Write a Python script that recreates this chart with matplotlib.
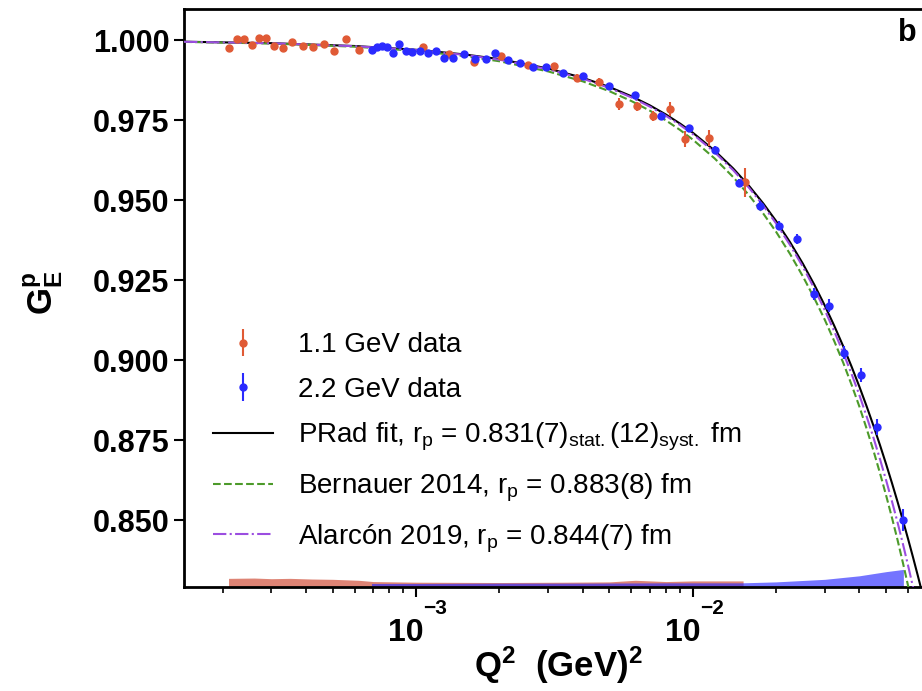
import numpy as np
import matplotlib
matplotlib.use('Agg')
import matplotlib.pyplot as plt
from matplotlib.ticker import FixedLocator, FuncFormatter, LogLocator, NullFormatter

plt.rcParams['font.family'] = ['Liberation Sans', 'DejaVu Sans']
plt.rcParams['mathtext.fontset'] = 'custom'
plt.rcParams['mathtext.rm'] = 'Liberation Sans'
plt.rcParams['mathtext.it'] = 'Liberation Sans:italic'
plt.rcParams['mathtext.bf'] = 'Liberation Sans:bold'

# ---------------- data ----------------
red_q2 = [2.115e-4, 2.249e-4, 2.396e-4, 2.548e-4, 2.715e-4, 2.862e-4, 3.075e-4, 3.315e-4,
          3.573e-4, 3.896e-4, 4.255e-4, 4.651e-4, 5.066e-4, 5.598e-4, 6.208e-4,
          1.060e-3, 1.316e-3, 1.621e-3, 2.028e-3, 2.540e-3, 3.153e-3, 3.819e-3, 4.585e-3,
          5.393e-3, 6.273e-3, 7.205e-3, 8.278e-3, 9.380e-3, 1.140e-2, 1.545e-2]
red_ge = [0.99775, 1.00047, 1.00047, 0.99859, 1.00088, 1.00069, 0.99819, 0.99756,
          0.99944, 0.99819, 0.99797, 0.99900, 0.99672, 1.00047, 0.99694,
          0.99797, 0.99578, 0.99338, 0.99516, 0.99234, 0.99203, 0.98828, 0.98688,
          0.98016, 0.97938, 0.97641, 0.97850, 0.96906, 0.96944, 0.95563]
red_err = [0.0007, 0.0007, 0.0007, 0.0007, 0.0007, 0.0007, 0.0007, 0.0007,
           0.0007, 0.0007, 0.0007, 0.0007, 0.0008, 0.0008, 0.0008,
           0.0008, 0.0009, 0.0009, 0.0009, 0.0010, 0.0010, 0.0011, 0.0012,
           0.0018, 0.0015, 0.0015, 0.0022, 0.0025, 0.0025, 0.0045]

blue_q2 = [6.93e-4, 7.23e-4, 7.54e-4, 7.86e-4, 8.26e-4, 8.68e-4, 9.17e-4, 9.67e-4,
           1.030e-3, 1.108e-3, 1.184e-3, 1.264e-3, 1.364e-3, 1.487e-3, 1.634e-3, 1.783e-3,
           1.930e-3, 2.147e-3, 2.371e-3, 2.654e-3, 2.938e-3, 3.406e-3, 4.023e-3, 4.984e-3,
           6.203e-3, 7.683e-3, 9.681e-3, 1.199e-2, 1.468e-2, 1.751e-2, 2.056e-2, 2.388e-2,
           2.744e-2, 3.104e-2, 3.523e-2, 4.048e-2, 4.624e-2, 5.770e-2]
blue_ge = [0.99703, 0.99787, 0.99828, 0.99781, 0.99609, 0.99881, 0.99678, 0.99641,
           0.99666, 0.99619, 0.99666, 0.99444, 0.99444, 0.99588, 0.99406, 0.99428,
           0.99600, 0.99381, 0.99297, 0.99156, 0.99156, 0.98984, 0.98891, 0.98563,
           0.98281, 0.97641, 0.97256, 0.96569, 0.95538, 0.94828, 0.94209, 0.93788,
           0.92078, 0.91703, 0.90244, 0.89547, 0.87931, 0.85016]
blue_err = [0.0005, 0.0005, 0.0005, 0.0005, 0.0005, 0.0005, 0.0005, 0.0005,
            0.0005, 0.0005, 0.0005, 0.0005, 0.0005, 0.0006, 0.0006, 0.0006,
            0.0006, 0.0006, 0.0006, 0.0007, 0.0007, 0.0007, 0.0008, 0.0008,
            0.0009, 0.0010, 0.0011, 0.0012, 0.0013, 0.0014, 0.0015, 0.0016,
            0.0018, 0.0020, 0.0021, 0.0023, 0.0025, 0.0035]

curve_q2 = [1.45e-4, 3e-4, 6e-4, 1e-3, 1.5e-3, 2e-3, 3e-3, 4e-3, 5e-3, 6e-3, 7e-3, 8e-3,
            9e-3, 1e-2, 1.2e-2, 1.4e-2, 1.6e-2, 1.8e-2, 2e-2, 2.25e-2, 2.5e-2, 2.75e-2,
            3e-2, 3.25e-2, 3.5e-2, 3.75e-2, 4e-2, 4.25e-2, 4.5e-2, 4.75e-2, 5e-2, 5.25e-2,
            5.5e-2, 5.75e-2, 6e-2, 6.25e-2, 6.5e-2, 6.75e-2, 7e-2]
prad_ge = [0.999572, 0.999116, 0.998232, 0.997057, 0.995590, 0.994127, 0.991210, 0.988306,
           0.985416, 0.982538, 0.979673, 0.976821, 0.973982, 0.971155, 0.965539, 0.959972,
           0.954454, 0.948984, 0.943562, 0.936850, 0.930211, 0.923642, 0.917143, 0.910712,
           0.904349, 0.898053, 0.891823, 0.885656, 0.879554, 0.873513, 0.867535, 0.861617,
           0.855759, 0.849959, 0.844217, 0.838533, 0.832905, 0.827332, 0.821814]
bern_ge = [0.999517, 0.999004, 0.998014, 0.996700, 0.995075, 0.993466, 0.990301, 0.987200,
           0.984100, 0.981040, 0.978020, 0.974984, 0.971983, 0.969000, 0.963088, 0.957272,
           0.951520, 0.945820, 0.940200, 0.933175, 0.926250, 0.919425, 0.912700, 0.905912,
           0.899200, 0.892375, 0.885600, 0.878662, 0.871750, 0.864744, 0.857750, 0.850769,
           0.843800, 0.836700, 0.829600, 0.822812, 0.816050, 0.809312, 0.802600]
alar_ge = [0.999558, 0.999085, 0.998173, 0.996960, 0.995455, 0.993960, 0.990985, 0.988040,
           0.985100, 0.982180, 0.979280, 0.976400, 0.973540, 0.970700, 0.965032, 0.959428,
           0.953856, 0.948304, 0.942800, 0.935987, 0.929250, 0.922450, 0.915700, 0.909000,
           0.902350, 0.895750, 0.889200, 0.882487, 0.875800, 0.869137, 0.862500, 0.855887,
           0.849300, 0.842594, 0.835900, 0.829219, 0.822550, 0.815894, 0.809250]

red_sys_q2 = [2.1e-4, 2.6e-4, 3.0e-4, 3.5e-4, 4.2e-4, 5.0e-4, 6.2e-4, 7.0e-4, 1.0e-3,
              2.0e-3, 3.5e-3, 5.0e-3, 6.2e-3, 8.0e-3, 1.0e-2, 1.52e-2]
red_sys = [0.0027, 0.0028, 0.0026, 0.0027, 0.0025, 0.0024, 0.0021, 0.0017, 0.0015,
           0.0014, 0.0015, 0.0016, 0.0021, 0.0017, 0.0019, 0.0019]
blue_sys_q2 = [6.9e-4, 1.0e-3, 2.0e-3, 4.0e-3, 8.0e-3, 1.5e-2, 2.0e-2, 3.0e-2, 4.0e-2,
               5.0e-2, 5.77e-2]
blue_sys = [0.0011, 0.0011, 0.0012, 0.0012, 0.0013, 0.0013, 0.0016, 0.0024, 0.0035,
            0.0048, 0.0055]

y_ticks = [0.850, 0.875, 0.900, 0.925, 0.950, 0.975, 1.000]

labels = ['1.1 GeV data', '2.2 GeV data',
          r'PRad fit, r$_\mathregular{p}$ = 0.831(7)$_\mathregular{stat.}$(12)$_\mathregular{syst.}$ fm',
          r'Bernauer 2014, r$_\mathregular{p}$ = 0.883(8) fm',
          r'Alarcón 2019, r$_\mathregular{p}$ = 0.844(7) fm']

# ---------------- figure ----------------
fig = plt.figure(figsize=(9.22, 6.91), dpi=100)
ax = fig.add_axes([0.1996, 0.1505, 0.8037, 0.8365])
ax.set_xscale('log')
ax.set_xlim(1.45e-4, 0.0691)
ax.set_ylim(0.8292, 1.0098)
base = ax.get_ylim()[0]

ax.fill_between(red_sys_q2, base, base + np.array(red_sys), color='#d0503a', alpha=0.7, lw=0, zorder=1)
ax.fill_between(blue_sys_q2, base, base + np.array(blue_sys), color='#2a2aff', alpha=0.65, lw=0, zorder=1)

l1, = ax.plot(curve_q2, prad_ge, color='black', lw=1.5, zorder=3)
l2, = ax.plot(curve_q2, bern_ge, color='#4c9a2a', lw=1.5, ls='--', zorder=3)
l3, = ax.plot(curve_q2, alar_ge, color='#9b4de0', lw=1.5, ls='-.', zorder=3)

e1 = ax.errorbar(red_q2, red_ge, yerr=red_err, fmt='o', color='#e05a35', ms=5,
                 elinewidth=1.5, capsize=0, zorder=4)
e2 = ax.errorbar(blue_q2, blue_ge, yerr=blue_err, fmt='o', color='#2a2aff', ms=5,
                 elinewidth=1.5, capsize=0, zorder=4)

ax.yaxis.set_major_locator(FixedLocator(y_ticks))
ax.yaxis.set_major_formatter(FuncFormatter(lambda v, p: '%.3f' % v))
ax.xaxis.set_major_locator(LogLocator(base=10, numticks=10))
ax.xaxis.set_minor_locator(LogLocator(base=10, subs=np.arange(2, 10), numticks=20))
ax.xaxis.set_minor_formatter(NullFormatter())
ax.xaxis.set_major_formatter(NullFormatter())

ax.tick_params(axis='both', which='major', direction='out', length=7, width=1.5, labelsize=22)
ax.tick_params(axis='x', which='minor', direction='out', length=4.5, width=1.2)
for lab in ax.get_yticklabels():
    lab.set_fontweight('bold')

# x tick labels drawn as "10" with a raised exponent, as in the original
x0, x1 = ax.get_xlim()
for t in ax.xaxis.get_majorticklocs():
    if x0 <= t <= x1:
        e = int(round(np.log10(t)))
        ax.annotate('10', xy=(t, 0), xycoords=('data', 'axes fraction'),
                    xytext=(-10, -46), textcoords='offset pixels', ha='center', va='center',
                    fontsize=23, fontweight='bold', annotation_clip=False)
        ax.annotate('\u2212%d' % abs(e), xy=(t, 0), xycoords=('data', 'axes fraction'),
                    xytext=(19, -21), textcoords='offset pixels', ha='center', va='center',
                    fontsize=15, fontweight='bold', annotation_clip=False)

for s in ['left', 'bottom', 'top']:
    ax.spines[s].set_linewidth(2)
ax.spines['right'].set_visible(False)

ax.set_xlabel(r'$\mathbf{Q^2}$  $\mathbf{(GeV)^2}$', fontsize=25)
ax.xaxis.set_label_coords(0.505, -0.099)
ax.set_ylabel(r'$\mathbf{G_E^p}$', fontsize=25)
ax.yaxis.set_label_coords(-0.161, 0.51)

leg = ax.legend([e1, e2, l1, l2, l3], labels, loc='lower left', bbox_to_anchor=(0.0235, 0.037),
                frameon=False, fontsize=20, handlelength=2.16, handletextpad=0.9,
                labelspacing=0.66, borderaxespad=0)

fig.text(0.984, 0.952, 'b', fontsize=22, fontweight='bold', ha='center', va='center')

fig.savefig('out.png', dpi=100)
